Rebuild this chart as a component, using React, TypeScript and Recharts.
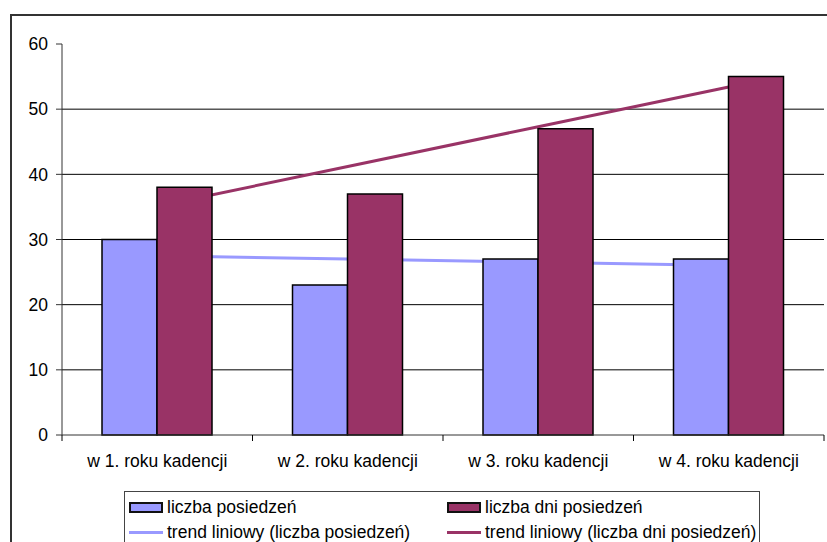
import { Bar, CartesianGrid, ComposedChart, Line, XAxis, YAxis } from "recharts";

const CATEGORIES = [
  "w 1. roku kadencji",
  "w 2. roku kadencji",
  "w 3. roku kadencji",
  "w 4. roku kadencji",
];
const POSIEDZENIA = [30, 23, 27, 27];
const DNI_POSIEDZEN = [38, 37, 47, 55];
// trend lines
const TREND_POSIEDZENIA = [27.5, 27, 26.5, 26];
const TREND_DNI = [35.1, 41.2, 47.3, 53.4];
const Y_TICKS = [0, 10, 20, 30, 40, 50, 60];

const BLUE = "#9999FF";
const PLUM = "#993366";
const FONT = "'Liberation Sans', Arial, sans-serif";

const data = CATEGORIES.map((name, i) => ({
  name,
  posiedzenia: POSIEDZENIA[i],
  dni: DNI_POSIEDZEN[i],
  trendPosiedzenia: TREND_POSIEDZENIA[i],
  trendDni: TREND_DNI[i],
}));

const LEGEND = [
  { label: "liczba posiedzeń", color: BLUE, kind: "bar" },
  { label: "liczba dni posiedzeń", color: PLUM, kind: "bar" },
  { label: "trend liniowy (liczba posiedzeń)", color: BLUE, kind: "line" },
  { label: "trend liniowy (liczba dni posiedzeń)", color: PLUM, kind: "line" },
];

function CategoryTick(props: any) {
  const { x, y, payload, index, width } = props;
  const half = (width ?? 762) / CATEGORIES.length / 2;
  return (
    <g>
      <line x1={x - half} x2={x - half} y1={y} y2={y + 6} stroke="#000" />
      {index === CATEGORIES.length - 1 && (
        <line x1={x + half} x2={x + half} y1={y} y2={y + 6} stroke="#000" />
      )}
      <text
        x={x}
        y={y + 26}
        textAnchor="middle"
        dominantBaseline="central"
        fontSize={17.5}
        fontFamily={FONT}
        fill="#000"
      >
        {payload.value}
      </text>
    </g>
  );
}

export default function App() {
  return (
    <div
      style={{
        position: "absolute",
        left: 0,
        top: 0,
        width: 827,
        height: 542,
        overflow: "hidden",
        background: "#fff",
        fontFamily: FONT,
      }}
    >
      <div
        style={{
          position: "absolute",
          left: 10,
          top: 14,
          width: 840,
          height: 560,
          border: "2px solid #333",
        }}
      />
      <ComposedChart
        width={827}
        height={542}
        data={data}
        margin={{ top: 44, right: 3, bottom: 0, left: 0 }}
        barGap={0}
        barCategoryGap="21%"
        style={{ position: "absolute", left: 0, top: 0 }}
      >
        <CartesianGrid
          vertical={false}
          horizontalValues={[10, 20, 30, 40, 50]}
          stroke="#000"
        />
        <XAxis
          dataKey="name"
          height={107}
          tickLine={false}
          tickSize={0}
          tickMargin={0}
          axisLine={{ stroke: "#333" }}
          tick={<CategoryTick />}
          interval={0}
        />
        <YAxis
          width={62}
          domain={[0, 60]}
          ticks={Y_TICKS}
          tickSize={6}
          tickMargin={8}
          axisLine={{ stroke: "#333" }}
          tickLine={{ stroke: "#333" }}
          tick={{ fontSize: 17.5, fill: "#000", fontFamily: FONT }}
        />
        <Line
          dataKey="trendPosiedzenia"
          stroke={BLUE}
          strokeWidth={3}
          dot={false}
          activeDot={false}
          zIndex={250}
          isAnimationActive={false}
        />
        <Line
          dataKey="trendDni"
          stroke={PLUM}
          strokeWidth={3}
          dot={false}
          activeDot={false}
          zIndex={250}
          isAnimationActive={false}
        />
        <Bar
          dataKey="posiedzenia"
          fill={BLUE}
          stroke="#000"
          strokeWidth={1.5}
          isAnimationActive={false}
        />
        <Bar
          dataKey="dni"
          fill={PLUM}
          stroke="#000"
          strokeWidth={1.5}
          isAnimationActive={false}
        />
      </ComposedChart>
      <div
        style={{
          position: "absolute",
          left: 124,
          top: 491,
          width: 636,
          height: 80,
          border: "1.5px solid #444",
          boxSizing: "border-box",
          display: "grid",
          gridTemplateColumns: "318px 318px",
          gridAutoRows: "25px",
          paddingTop: 3,
          fontSize: 17.5,
          color: "#000",
        }}
      >
        {LEGEND.map((item) => (
          <div
            key={item.label}
            style={{ display: "flex", alignItems: "center", paddingLeft: 4, whiteSpace: "nowrap" }}
          >
            {item.kind === "bar" ? (
              <span
                style={{
                  width: 34,
                  height: 11,
                  background: item.color,
                  border: "2px solid #111",
                  boxSizing: "border-box",
                  marginRight: 4,
                }}
              />
            ) : (
              <span
                style={{
                  width: 34,
                  height: 3,
                  background: item.color,
                  marginRight: 4,
                }}
              />
            )}
            <span>{item.label}</span>
          </div>
        ))}
      </div>
    </div>
  );
}
